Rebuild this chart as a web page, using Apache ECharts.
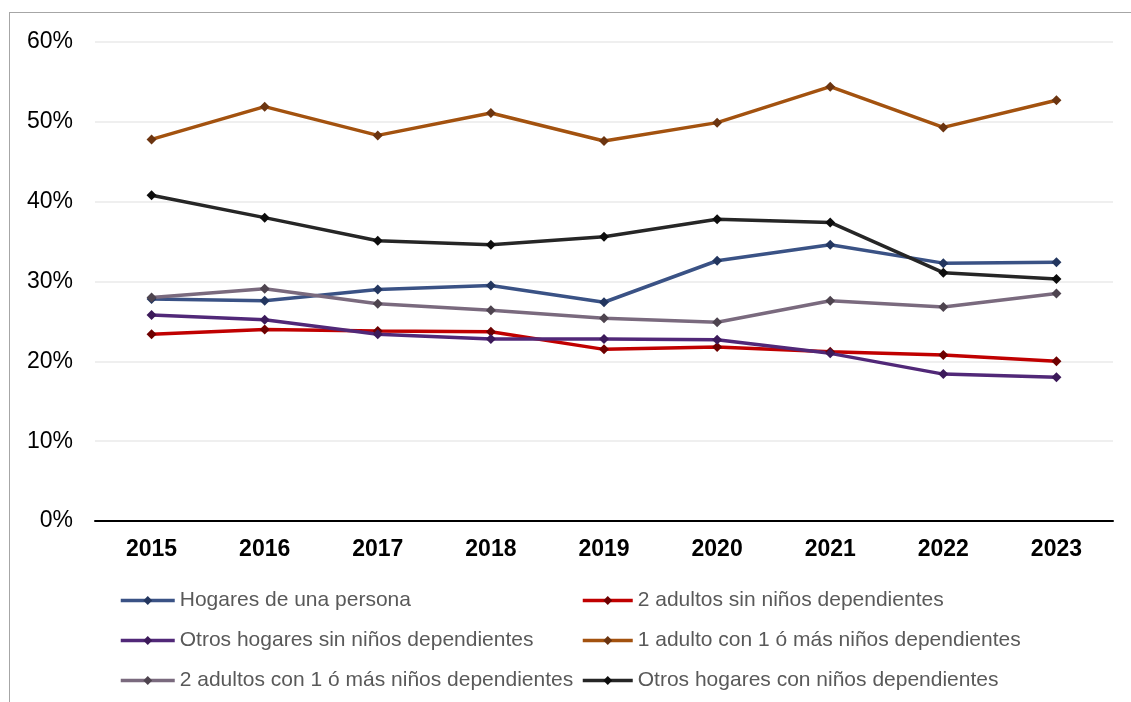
<!DOCTYPE html>
<html>
<head>
<meta charset="utf-8">
<script src="https://cdn.jsdelivr.net/npm/echarts@6/dist/echarts.min.js"></script>
<style>
  html, body { margin: 0; padding: 0; background: #fff; overflow: hidden; }
  #frame {
    position: absolute; left: 9px; top: 12px; width: 1200px; height: 800px;
    border-left: 1px solid #a6a6a6; border-top: 1px solid #a6a6a6;
  }
  #chart { position: absolute; left: 0; top: 0; width: 1131px; height: 702px; }
</style>
</head>
<body>
<div id="frame"></div>
<div id="chart"></div>
<script>
// años
var years = ["2015", "2016", "2017", "2018", "2019", "2020", "2021", "2022", "2023"];

// % por tipo de hogar
var hogaresUnaPersona = [27.8, 27.6, 29.0, 29.5, 27.4, 32.6, 34.6, 32.3, 32.4];
var dosAdultosSinNinos = [23.4, 24.0, 23.8, 23.7, 21.5, 21.8, 21.2, 20.8, 20.0];
var otrosSinNinos = [25.8, 25.2, 23.4, 22.8, 22.8, 22.7, 21.0, 18.4, 18.0];
var unAdultoConNinos = [47.8, 51.9, 48.3, 51.1, 47.6, 49.9, 54.4, 49.3, 52.7];
var dosAdultosConNinos = [28.0, 29.1, 27.2, 26.4, 25.4, 24.9, 27.6, 26.8, 28.5];
var otrosConNinos = [40.8, 38.0, 35.1, 34.6, 35.6, 37.8, 37.4, 31.1, 30.3];

var yTicks = [0, 10, 20, 30, 40, 50, 60];

var FONT = "'Liberation Sans', Arial, sans-serif";

function serie(name, data, lineColor, markColor) {
  return {
    name: name,
    type: "line",
    data: data,
    symbol: "diamond",
    symbolSize: 10,
    showSymbol: true,
    lineStyle: { color: lineColor, width: 3.5 },
    itemStyle: { color: markColor },
    emphasis: { disabled: true },
  };
}

var legendText = { fontFamily: FONT, fontSize: 21, color: "#595959", lineHeight: 21 };

var chart = echarts.init(document.getElementById("chart"), null, { renderer: "canvas" });
chart.setOption({
  animation: false,
  textStyle: { fontFamily: FONT },
  grid: { left: 95, right: 18, top: 42, bottom: 181 },
  legend: [
    {
      orient: "vertical",
      left: 119,
      top: 590,
      padding: 0,
      itemWidth: 54,
      itemHeight: 11,
      itemGap: 19,
      lineStyle: { width: 3.5 },
      textStyle: legendText,
      data: ["Hogares de una persona", "Otros hogares sin niños dependientes", "2 adultos con 1 ó más niños dependientes"],
    },
    {
      orient: "vertical",
      left: 581,
      top: 590,
      padding: 0,
      itemWidth: 50,
      itemHeight: 11,
      itemGap: 19,
      lineStyle: { width: 3.5 },
      textStyle: legendText,
      data: ["2 adultos sin niños dependientes", "1 adulto con 1 ó más niños dependientes", "Otros hogares con niños dependientes"],
    },
  ],
  xAxis: {
    type: "category",
    data: years,
    boundaryGap: true,
    axisLine: { lineStyle: { color: "#000", width: 2 } },
    axisTick: { show: false },
    axisLabel: { color: "#000", fontFamily: FONT, fontSize: 23, fontWeight: "bold", margin: 17 },
  },
  yAxis: {
    type: "value",
    min: yTicks[0],
    max: yTicks[yTicks.length - 1],
    interval: 10,
    axisLine: { show: false },
    axisTick: { show: false },
    axisLabel: { color: "#000", fontFamily: FONT, fontSize: 23, margin: 22, formatter: "{value}%" },
    splitLine: { lineStyle: { color: "#efefef", width: 2 } },
  },
  series: [
    serie("Hogares de una persona", hogaresUnaPersona, "#3a5285", "#23365f"),
    serie("2 adultos sin niños dependientes", dosAdultosSinNinos, "#c00000", "#6e0000"),
    serie("Otros hogares sin niños dependientes", otrosSinNinos, "#512878", "#3c1a5a"),
    serie("1 adulto con 1 ó más niños dependientes", unAdultoConNinos, "#a3520f", "#6b3410"),
    serie("2 adultos con 1 ó más niños dependientes", dosAdultosConNinos, "#7a6a7e", "#4e444f"),
    serie("Otros hogares con niños dependientes", otrosConNinos, "#262626", "#0d0d0d"),
  ],
});
</script>
</body>
</html>
